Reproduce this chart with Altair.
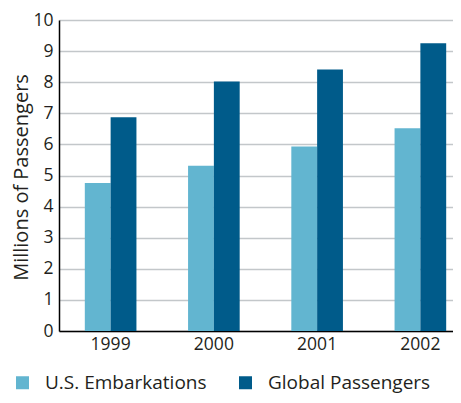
import altair as alt
import pandas as pd

years = ["1999", "2000", "2001", "2002"]
series = ["U.S. Embarkations", "Global Passengers"]
us_values = [4.76, 5.31, 5.93, 6.52]
global_values = [6.87, 8.02, 8.41, 9.25]
colors = ["#62b5d0", "#005b8a"]

rows = []
for y, u, g in zip(years, us_values, global_values):
    rows.append({"year": y, "series": series[0], "value": u})
    rows.append({"year": y, "series": series[1], "value": g})
df = pd.DataFrame(rows)

FONT = "Open Sans"
TXT = "#231f20"

chart = alt.Chart(df).mark_bar().encode(
    x=alt.X("year:N", sort=years, title=None,
            scale=alt.Scale(range=[0, 413], paddingInner=0.5, paddingOuter=0.25),
            axis=alt.Axis(labelAngle=0, ticks=False, domainColor="black", domainWidth=1.5,
                          labelPadding=4, labelFontSize=17.5, labelFont=FONT, labelColor=TXT)),
    xOffset=alt.XOffset("series:N", sort=series, scale=alt.Scale(paddingInner=0, paddingOuter=0)),
    y=alt.Y("value:Q", title="Millions of Passengers",
            scale=alt.Scale(domain=[0, 10], nice=False),
            axis=alt.Axis(values=list(range(0, 11)), ticks=False, domainColor="black", domainWidth=1.5,
                          gridColor="#c3c7ca", gridWidth=1.5, labelPadding=6,
                          labelFontSize=17.5, labelFont=FONT, labelColor=TXT,
                          titleFontSize=20, titleFont=FONT, titleColor=TXT, titleFontWeight="normal",
                          titleX=-38, titleY=157, titleAngle=270, titleAlign="center",
                          titleBaseline="middle")),
    color=alt.Color("series:N", sort=series, scale=alt.Scale(domain=series, range=colors),
                    legend=alt.Legend(title=None, orient="none", legendX=-46, legendY=353,
                                      direction="horizontal", columns=2, symbolType="square",
                                      symbolSize=169, symbolStrokeWidth=0, labelOffset=13,
                                      columnPadding=29, labelFontSize=19, labelFont=FONT,
                                      labelColor=TXT, labelLimit=300)),
).properties(
    width=394, height=311,
    autosize=alt.AutoSizeParams(type="none"),
    padding={"left": 51, "top": 12, "right": 0, "bottom": 64},
).configure_view(stroke=None)

chart.save("out.html", embed_options={"renderer": "svg", "actions": False})
